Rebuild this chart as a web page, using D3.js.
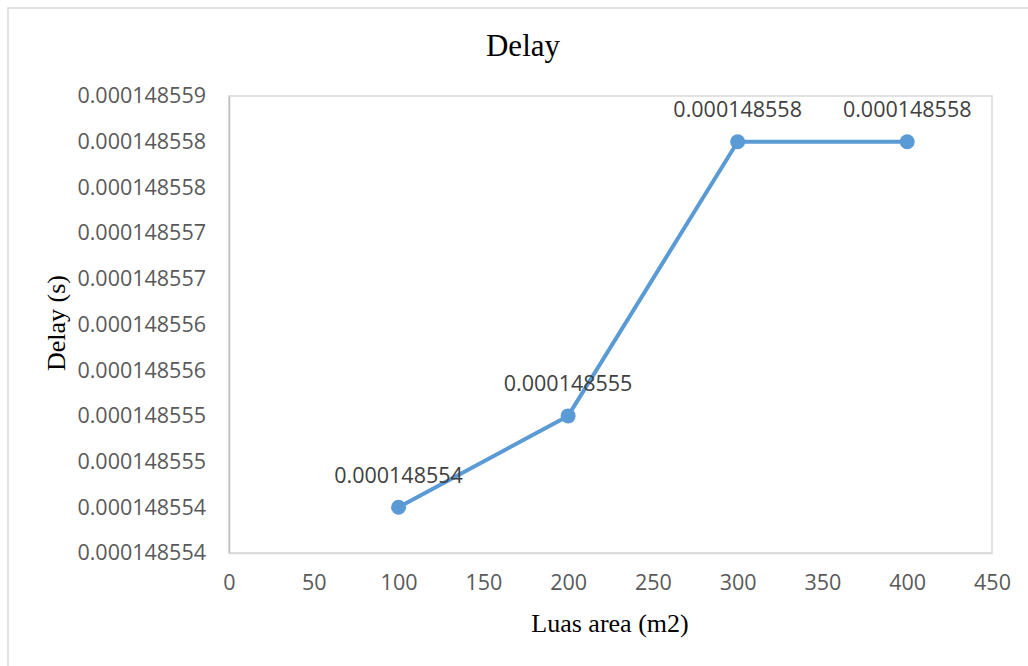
<!DOCTYPE html>
<html>
<head>
<meta charset="utf-8">
<script src="https://cdn.jsdelivr.net/npm/d3@7"></script>
<style>
  html, body { margin: 0; padding: 0; background: #fff; }
  svg { display: block; }
</style>
</head>
<body>
<svg id="chart" width="1028" height="666"></svg>
<script>
// ---- data ----
const areas = [100, 200, 300, 400];
const delays = [0.000148554, 0.000148555, 0.000148558, 0.000148558];
const dataLabels = ["0.000148554", "0.000148555", "0.000148558", "0.000148558"];
const xTicks = [0, 50, 100, 150, 200, 250, 300, 350, 400, 450];
const yTicks = [0.0001485535, 0.000148554, 0.0001485545, 0.000148555, 0.0001485555,
                0.000148556, 0.0001485565, 0.000148557, 0.0001485575, 0.000148558, 0.0001485585];
const yTickLabels = ["0.000148554", "0.000148554", "0.000148555", "0.000148555", "0.000148556",
                     "0.000148556", "0.000148557", "0.000148557", "0.000148558", "0.000148558", "0.000148559"];
const chartTitle = "Delay";
const xTitle = "Luas area (m2)";
const yTitle = "Delay (s)";

// ---- layout ----
const svg = d3.select("#chart");
const plot = { left: 229, right: 992, top: 96, bottom: 553 };
const lineColor = "#5b9bd5";
const sans = "'Open Sans', 'Noto Sans', sans-serif";
const serif = "'Liberation Serif', 'DejaVu Serif', serif";
const fs = 21.5;

// outer chart border
svg.append("rect")
  .attr("x", 8).attr("y", 8).attr("width", 1040).attr("height", 700)
  .attr("fill", "none").attr("stroke", "#d9d9d9").attr("stroke-width", 1.5);

const x = d3.scaleLinear().domain([0, 450]).range([plot.left, plot.right]);
const y = d3.scaleLinear().domain([yTicks[0], yTicks[yTicks.length - 1]]).range([plot.bottom, plot.top]);

// plot area border
svg.append("rect")
  .attr("x", plot.left).attr("y", plot.top)
  .attr("width", plot.right - plot.left).attr("height", plot.bottom - plot.top)
  .attr("fill", "none").attr("stroke", "#d9d9d9").attr("stroke-width", 1.5);

// y axis
const yAxis = d3.axisLeft(y).tickValues(yTicks)
  .tickFormat((d, i) => yTickLabels[i]).tickSize(0).tickPadding(23);
const gy = svg.append("g").attr("transform", `translate(${plot.left},0)`).call(yAxis);
gy.select(".domain").attr("stroke", "#bfbfbf").attr("stroke-width", 1.5);
gy.selectAll("text").attr("font-family", sans).attr("font-size", fs).attr("fill", "#595959");

// x axis
const xAxis = d3.axisBottom(x).tickValues(xTicks).tickFormat(d3.format("d")).tickSize(0).tickPadding(22);
const gx = svg.append("g").attr("transform", `translate(0,${plot.bottom})`).call(xAxis);
gx.select(".domain").attr("stroke", "#d9d9d9").attr("stroke-width", 1.5);
gx.selectAll("text").attr("font-family", sans).attr("font-size", fs).attr("fill", "#595959");

// line
const pts = areas.map((a, i) => ({ x: a, y: delays[i], label: dataLabels[i] }));
svg.append("path")
  .datum(pts)
  .attr("fill", "none").attr("stroke", lineColor).attr("stroke-width", 4)
  .attr("stroke-linejoin", "round")
  .attr("d", d3.line().x(d => x(d.x)).y(d => y(d.y)));

svg.selectAll("circle.pt").data(pts).enter().append("circle")
  .attr("class", "pt")
  .attr("cx", d => x(d.x)).attr("cy", d => y(d.y)).attr("r", 7.5)
  .attr("fill", lineColor);

svg.selectAll("text.dl").data(pts).enter().append("text")
  .attr("class", "dl")
  .attr("x", d => x(d.x)).attr("y", d => y(d.y) - 32)
  .attr("dy", "0.35em")
  .attr("text-anchor", "middle")
  .attr("font-family", sans).attr("font-size", fs).attr("fill", "#404040")
  .text(d => d.label);

// titles
svg.append("text")
  .attr("x", 523).attr("y", 56)
  .attr("text-anchor", "middle")
  .attr("font-family", serif).attr("font-size", 31).attr("fill", "#000")
  .text(chartTitle);

svg.append("text")
  .attr("x", 610).attr("y", 632)
  .attr("text-anchor", "middle")
  .attr("font-family", serif).attr("font-size", 26).attr("fill", "#000")
  .text(xTitle);

svg.append("text")
  .attr("transform", "translate(65,323) rotate(-90)")
  .attr("text-anchor", "middle")
  .attr("font-family", serif).attr("font-size", 26).attr("fill", "#000")
  .text(yTitle);
</script>
</body>
</html>
